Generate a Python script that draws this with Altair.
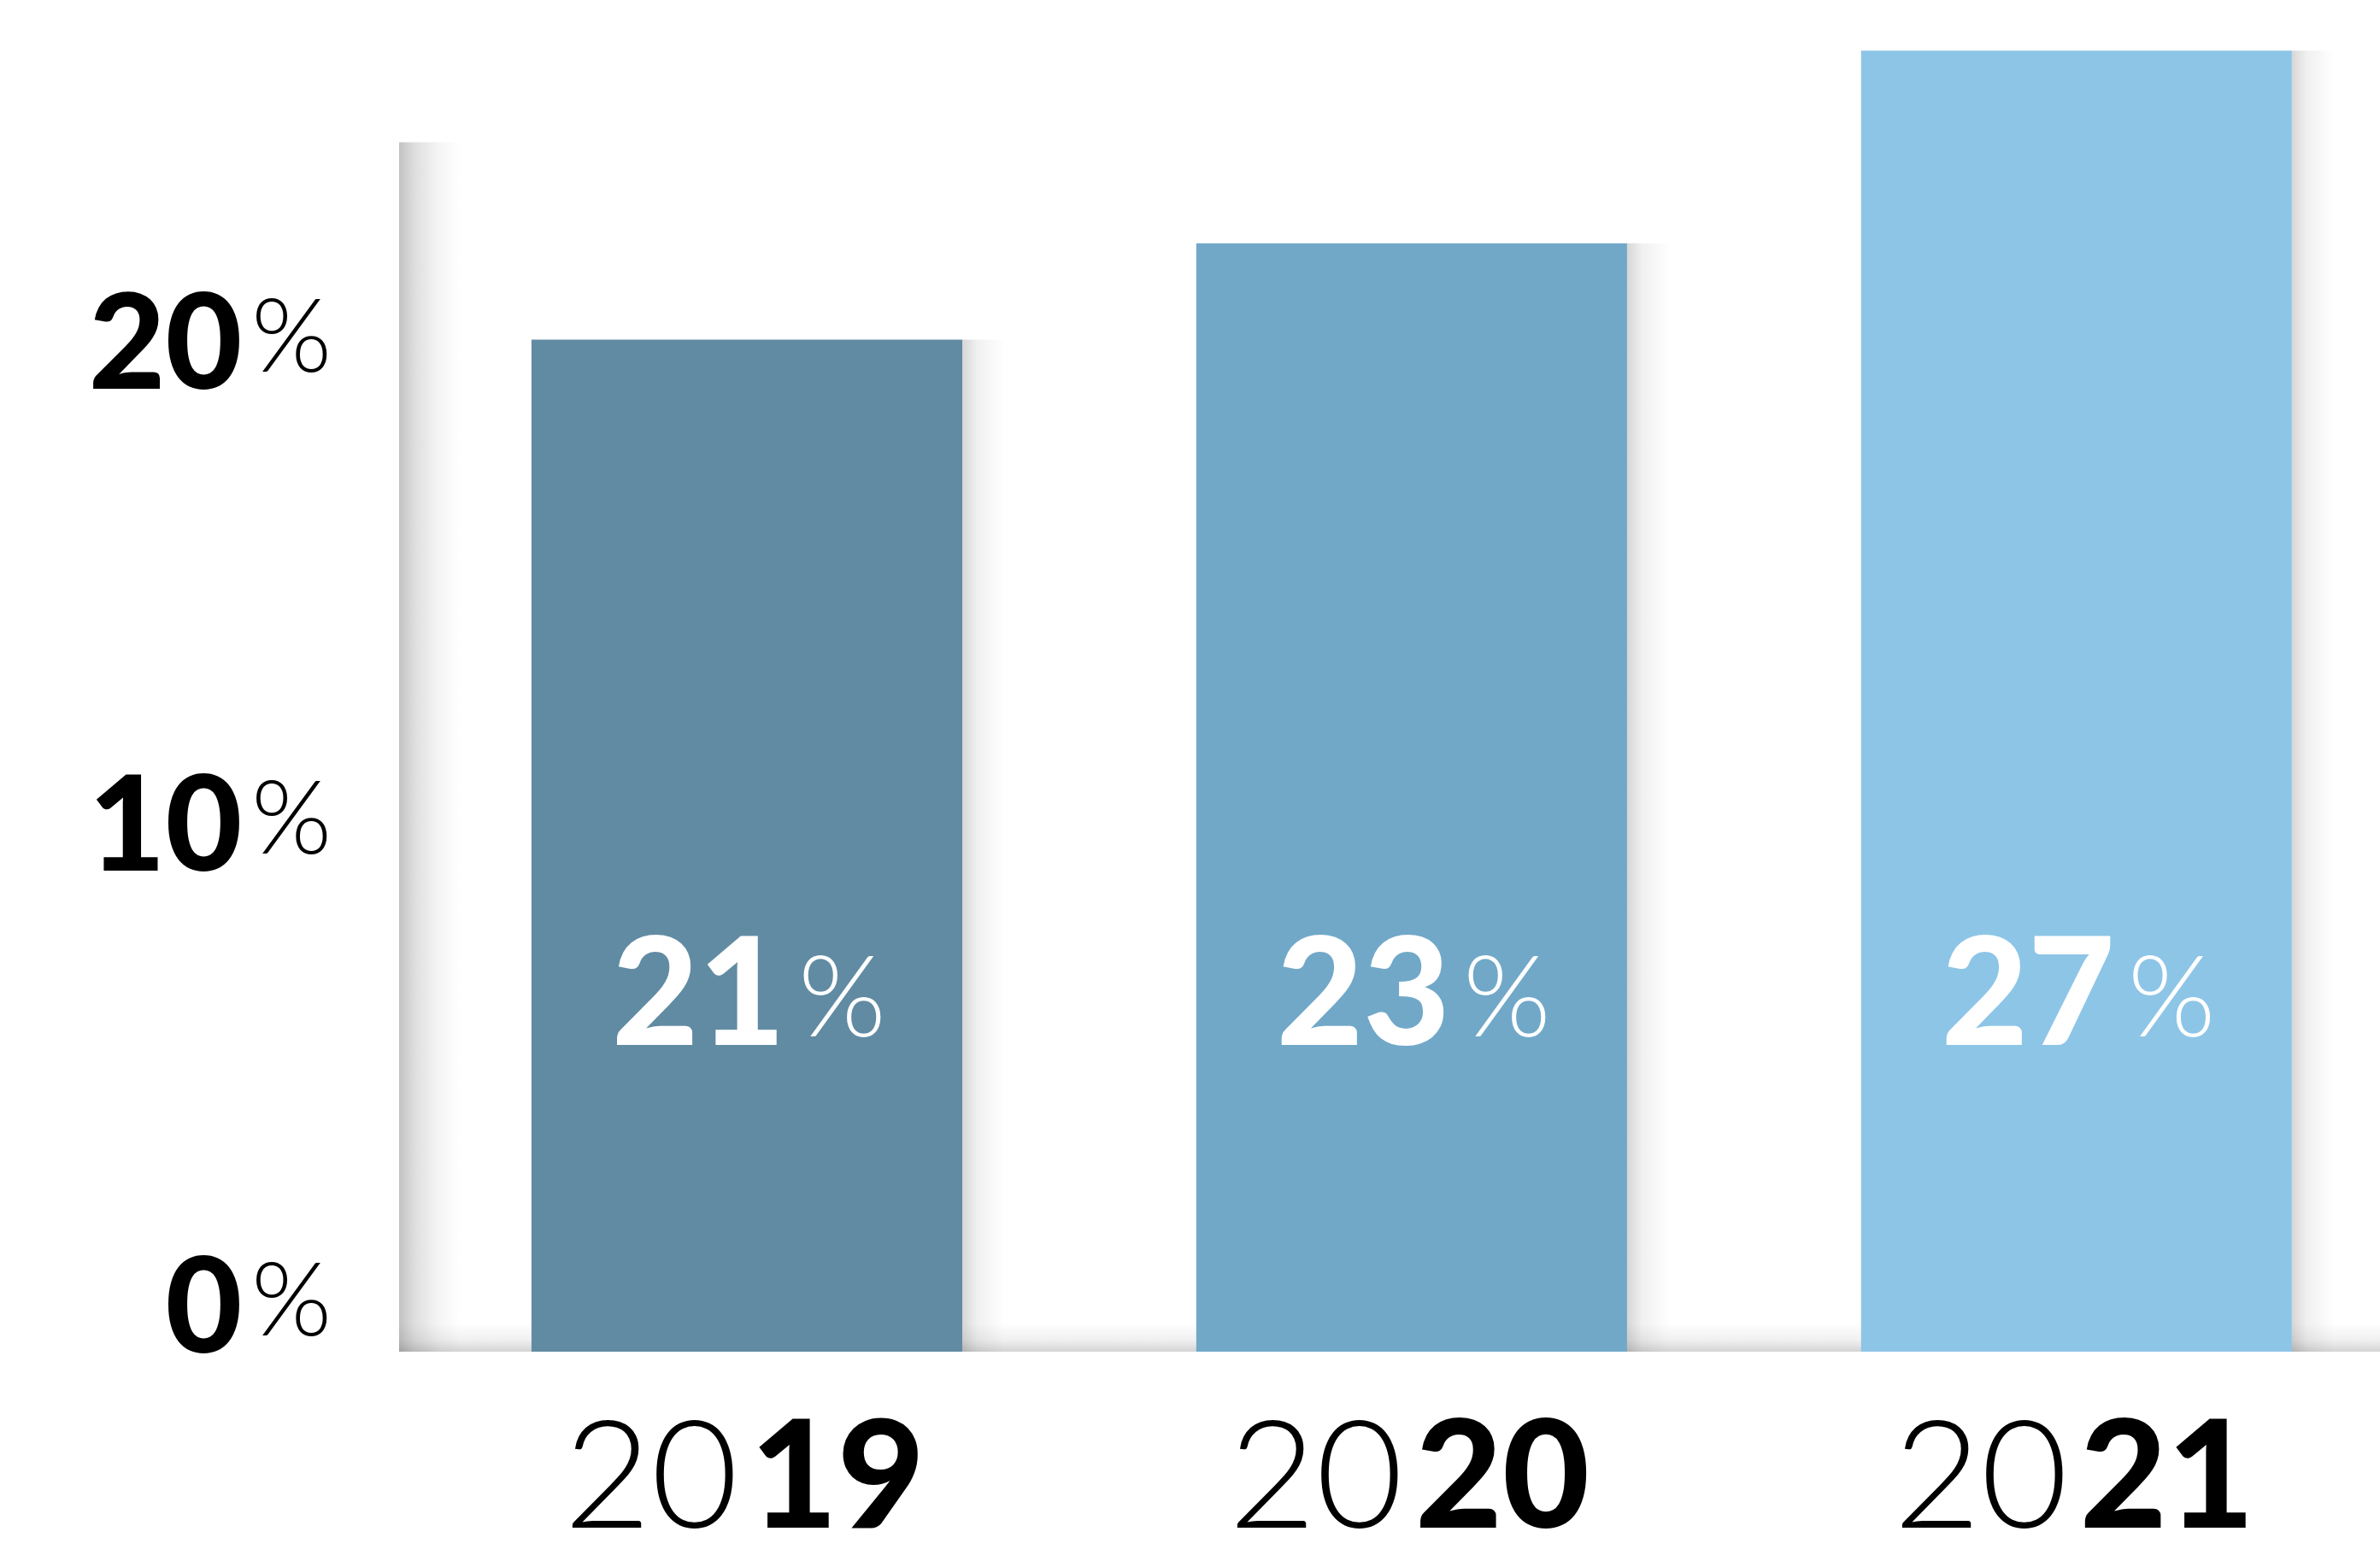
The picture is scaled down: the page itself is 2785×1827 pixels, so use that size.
import altair as alt
import pandas as pd

# ---- data ----
years = ["2019", "2020", "2021"]
values = [21, 23, 27]
bar_colors = ["#618ba3", "#71a8c8", "#8dc5e7"]
y_ticks = [0, 10, 20]

df = pd.DataFrame({"year": years, "value": values})
df["prefix"] = df["year"].str[:2]
df["suffix"] = df["year"].str[2:]
df["num"] = df["value"].astype(str)
ticks_df = pd.DataFrame({"tick": y_ticks})
one_df = pd.DataFrame({"k": [0]})

FONT = "Lato"
W, H = 2314, 1582
YMAX = 28.05

x_scale = alt.Scale(domain=years, paddingInner=0.352, paddingOuter=0.1633, align=0.594)
y_scale = alt.Scale(domain=[0, YMAX], nice=False, zero=True)

x_enc = alt.X("year:N", scale=x_scale, sort=years, axis=None)
y_enc = alt.Y(
    "value:Q", scale=y_scale,
    axis=alt.Axis(
        values=y_ticks, format="d", title=None, ticks=False, tickSize=0, domain=False,
        grid=False, labelFont=FONT, labelFontSize=155, labelFontWeight=900,
        labelColor="#000000", labelBaseline="alphabetic", labelAlign="right",
        labelPadding=188, labelFlush=False, labelOverlap=False,
    ),
)

def hgrad(stops):
    return alt.LinearGradient(
        gradient="linear", x1=0, x2=1, y1=0, y2=0,
        stops=[alt.GradientStop(color=c, offset=o) for c, o in stops],
    )

def vgrad(stops):
    return alt.LinearGradient(
        gradient="linear", x1=0, x2=0, y1=0, y2=1,
        stops=[alt.GradientStop(color=c, offset=o) for c, o in stops],
    )

# soft frame shadows (transparent gradients so they blend)
frame_v = alt.Chart(one_df).mark_rect(
    color=hgrad([("rgba(0,0,0,0.24)", 0), ("rgba(0,0,0,0.13)", 0.25),
                 ("rgba(0,0,0,0.04)", 0.65), ("rgba(0,0,0,0)", 1)])
).encode(x=alt.value(-4), x2=alt.value(68), y=alt.datum(25.1), y2=alt.datum(0))

frame_h = alt.Chart(one_df).mark_rect(
    color=vgrad([("rgba(0,0,0,0)", 0), ("rgba(0,0,0,0.06)", 0.6), ("rgba(0,0,0,0.17)", 1)])
).encode(x=alt.value(-4), x2=alt.value("width"), y=alt.datum(0.6), y2=alt.datum(0))

bar_shadow = alt.Chart(df).mark_bar(
    size=50, xOffset=277,
    color=hgrad([("rgba(0,0,0,0.16)", 0), ("rgba(0,0,0,0.06)", 0.35), ("rgba(0,0,0,0)", 1)]),
).encode(x=x_enc, y=y_enc)

bars = alt.Chart(df).mark_bar().encode(
    x=x_enc,
    y=y_enc,
    color=alt.Color("year:N", scale=alt.Scale(domain=years, range=bar_colors), legend=None),
)

# year labels: light "20" + bold suffix
year_prefix = alt.Chart(df).mark_text(
    align="right", baseline="alphabetic", dx=-10, dy=206,
    font=FONT, fontSize=176, fontWeight=300, color="#000000",
).encode(x=alt.X("year:N"), y=alt.datum(0), text="prefix:N")

year_suffix = alt.Chart(df).mark_text(
    align="left", baseline="alphabetic", dx=4, dy=206,
    font=FONT, fontSize=176, fontWeight=900, color="#000000",
).encode(x=alt.X("year:N"), y=alt.datum(0), text="suffix:N")

# light "%" after the y-axis numbers
y_pct = alt.Chart(ticks_df).mark_text(
    align="left", baseline="alphabetic", dy=-19,
    font=FONT, fontSize=121, fontWeight=300, color="#000000",
).encode(x=alt.value(-177), y=alt.Y("tick:Q"), text=alt.value("%"))

# value labels inside the bars
val_num = alt.Chart(df).mark_text(
    align="right", baseline="alphabetic", dx=45, dy=-359,
    font=FONT, fontSize=175, fontWeight=900, color="#ffffff",
).encode(x=alt.X("year:N"), y=alt.datum(0), text="num:N")

val_pct = alt.Chart(df).mark_text(
    align="left", baseline="alphabetic", dx=60, dy=-369,
    font=FONT, fontSize=132, fontWeight=300, color="#ffffff",
).encode(x=alt.X("year:N"), y=alt.datum(0), text=alt.value("%"))

chart = alt.layer(
    frame_v, frame_h, bar_shadow, bars, year_prefix, year_suffix, y_pct, val_num, val_pct
).properties(
    width=W, height=H,
    padding={"left": 471, "top": 0, "right": 0, "bottom": 245},
    autosize=alt.AutoSizeParams(type="none"),
    background="#ffffff",
).configure_view(stroke=None)

chart.save("out.html", embed_options={"renderer": "svg", "actions": False})
